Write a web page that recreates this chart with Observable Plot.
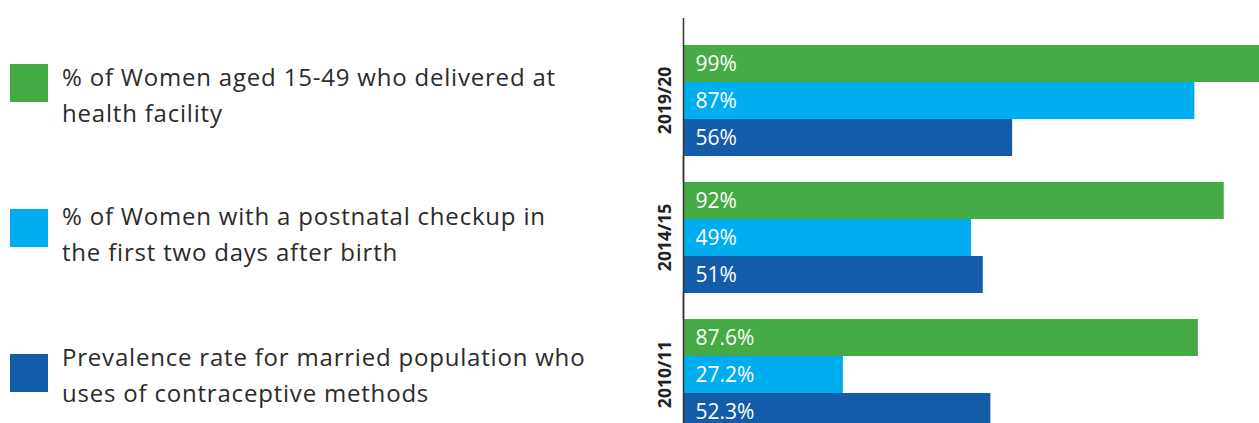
<!DOCTYPE html>
<html>
<head>
<meta charset="utf-8">
<script src="https://cdn.jsdelivr.net/npm/d3@7"></script>
<script src="https://cdn.jsdelivr.net/npm/@observablehq/plot@0.6"></script>
<style>
  html, body { margin: 0; padding: 0; background: #fff; overflow: hidden; }
  #wrap { position: relative; width: 1259px; height: 423px; overflow: hidden; display: flex; }
  #legend { position: relative; width: 640px; height: 423px; flex: none; font-family: "Open Sans", sans-serif; color: #2b2b2b; }
  .sw { position: absolute; left: 10px; width: 38px; height: 38px; }
  .txt { position: absolute; left: 62px; font-size: 24px; line-height: 36px; letter-spacing: 0.8px; white-space: nowrap; }
  #chart { flex: none; }
</style>
</head>
<body>
<div id="wrap">
  <div id="legend"></div>
  <div id="chart"></div>
</div>
<script>
// Survey rounds (top to bottom)
const years = ["2019/20", "2014/15", "2010/11"];
// Indicators
const seriesKeys = ["facility", "postnatal", "contraceptive"];
const seriesLabelLines = [
  ["% of Women aged 15-49 who delivered at", "health facility"],
  ["% of Women with a postnatal checkup in", "the first two days after birth"],
  ["Prevalence rate for married population who", "uses of contraceptive methods"]
];
const seriesColors = ["#46ab44", "#00aeef", "#135ca9"];
// Values per year (same order as years)
const facilityValues = [99, 92, 87.6];
const postnatalValues = [87, 49, 27.2];
const contraceptiveValues = [56, 51, 52.3];

const valueLists = [facilityValues, postnatalValues, contraceptiveValues];
const rows = [];
years.forEach((year, i) => {
  seriesKeys.forEach((key, j) => {
    rows.push({year, series: key, value: valueLists[j][i], label: `${valueLists[j][i]}%`});
  });
});

// Legend (left side) – layout offsets only
const swatchTops = [64, 209, 354];
const textTops = [59, 198, 339];
const legend = d3.select("#legend");
seriesKeys.forEach((key, j) => {
  legend.append("div").attr("class", "sw")
    .style("top", swatchTops[j] + "px")
    .style("background", seriesColors[j]);
  const t = legend.append("div").attr("class", "txt").style("top", textTops[j] + "px");
  seriesLabelLines[j].forEach(l => t.append("div").text(l));
});

const chart = Plot.plot({
  width: 619,
  height: 430,
  marginLeft: 43,
  marginRight: 0,
  marginTop: 44,
  marginBottom: 0,
  style: {background: "transparent", overflow: "hidden"},
  x: {domain: [0, 98], axis: null},
  y: {domain: seriesKeys, axis: null, padding: 0},
  fy: {domain: years, paddingInner: 0.1825, paddingOuter: 0, axis: null},
  color: {domain: seriesKeys, range: seriesColors},
  marks: [
    Plot.barX(rows, {x: "value", y: "series", fy: "year", fill: "series", clip: true}),
    Plot.text(rows, {
      x: 0, y: "series", fy: "year", text: "label", dx: 12,
      textAnchor: "start", fill: "white", fontSize: 21,
      fontFamily: "Open Sans"
    }),
    Plot.ruleX([0], {stroke: "#333", strokeWidth: 1.5, insetTop: -26, insetBottom: -26}),
    Plot.axisFy({
      anchor: "left", tickSize: 0, tickPadding: 13, tickRotate: -90, label: null,
      fontSize: 17.5, fontWeight: "bold", fontFamily: "Open Sans", fill: "#222"
    })
  ]
});
document.getElementById("chart").appendChild(chart);
</script>
</body>
</html>
